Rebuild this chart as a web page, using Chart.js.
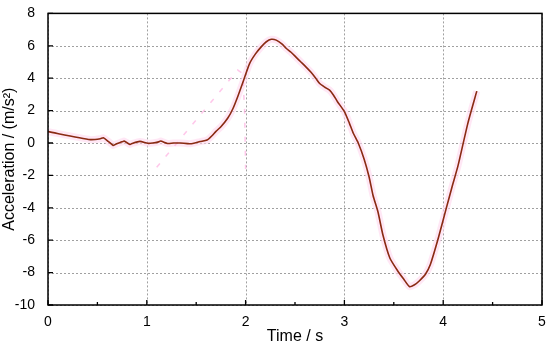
<!DOCTYPE html>
<html><head><meta charset="utf-8">
<script src="https://cdn.jsdelivr.net/npm/chart.js@4/dist/chart.umd.min.js"></script>
<style>html,body{margin:0;padding:0;background:#fff}#wrap{width:550px;height:346px}</style>
</head><body><div id="wrap"><canvas id="c" width="550" height="346"></canvas></div>
<script>
const timeS = [0,0.43,0.53,0.56,0.61,0.66,0.68,0.75,0.77,0.83,0.85,0.93,1.01,1.06,1.12,1.14,1.21,1.27,1.34,1.44,1.54,1.61,1.66,1.70,1.75,1.82,1.87,1.92,1.98,2.04,2.10,2.16,2.21,2.26,2.31,2.37,2.41,2.46,2.51,2.56,2.61,2.66,2.71,2.75,2.80,2.85,2.89,2.93,3.0,3.05,3.09,3.14,3.20,3.25,3.29,3.34,3.39,3.46,3.54,3.60,3.66,3.71,3.76,3.82,3.87,3.95,4.03,4.09,4.15,4.25,4.34];
const accel = [0.70,0.21,0.26,0.32,0.10,-0.15,-0.09,0.07,0.12,-0.09,-0.03,0.10,-0.02,0.0,0.07,0.12,-0.03,0.0,0.0,-0.05,0.09,0.18,0.45,0.72,1.0,1.54,2.1,2.86,3.87,4.9,5.5,5.95,6.25,6.40,6.35,6.1,5.85,5.6,5.3,5.0,4.7,4.38,4.0,3.67,3.45,3.26,2.95,2.55,1.94,1.23,0.6,0.0,-1.0,-2.1,-3.24,-4.26,-5.68,-7.1,-7.9,-8.4,-8.87,-8.75,-8.5,-8.1,-7.5,-5.88,-4.05,-2.7,-1.4,1.23,3.2];
const ghostT = [1.10,1.92,1.97,1.99,2.0];
const ghostA = [-1.5,4.5,4.3,2.0,-1.6];
const xTicks = [0,1,2,3,4,5];
const yTicks = [-10,-8,-6,-4,-2,0,2,4,6,8];

const mainPts = timeS.map((t,i)=>({x:t,y:accel[i]}));
const ghostPts = ghostT.map((t,i)=>({x:t,y:ghostA[i]}));

const gridPlugin = {
  id:'gridPlugin',
  beforeDatasetsDraw(chart){
    const {ctx, chartArea:a, scales:{x,y}} = chart;
    ctx.save();
    ctx.strokeStyle='#a0a0a0';
    ctx.lineWidth=1;
    ctx.setLineDash([2,2]);
    ctx.beginPath();
    xTicks.forEach(v=>{
      const px=Math.round(x.getPixelForValue(v))+0.5;
      ctx.moveTo(px,a.top); ctx.lineTo(px,a.bottom);
    });
    yTicks.forEach(v=>{
      const py=Math.round(y.getPixelForValue(v))+0.5;
      ctx.moveTo(a.left,py); ctx.lineTo(a.right,py);
    });
    ctx.stroke();
    ctx.restore();
  },
  afterDraw(chart){
    const {ctx, chartArea:a, scales:{x,y}} = chart;
    ctx.save();
    ctx.strokeStyle='#000';
    ctx.lineWidth=1.5;
    ctx.strokeRect(a.left,a.top,a.right-a.left,a.bottom-a.top);
    ctx.lineWidth=1.3;
    ctx.beginPath();
    for(let v=0; v<=5.0001; v+=0.5){
      const px=x.getPixelForValue(v);
      const len = (Math.abs(v-Math.round(v))<1e-6)?5:3;
      ctx.moveTo(px,a.bottom); ctx.lineTo(px,a.bottom-len);
    }
    yTicks.forEach(v=>{
      const py=y.getPixelForValue(v);
      ctx.moveTo(a.left,py); ctx.lineTo(a.left+5,py);
    });
    ctx.stroke();
    ctx.restore();
  }
};

new Chart(document.getElementById('c'),{
  type:'line',
  data:{datasets:[
    {data:mainPts,borderColor:'#8a2a12',borderWidth:1.6,pointRadius:0,tension:0.2,fill:false,order:0},
    {data:mainPts,borderColor:'rgba(255,215,238,0.6)',borderWidth:7,pointRadius:0,tension:0.2,fill:false,order:2},
    {data:ghostPts,borderColor:'rgba(255,175,225,0.7)',borderWidth:1.5,borderDash:[5,9],pointRadius:0,tension:0,fill:false,order:1}
  ]},
  options:{
    responsive:false,animation:false,
    layout:{padding:{left:0,right:8,top:9,bottom:0}},
    plugins:{legend:{display:false},tooltip:{enabled:false}},
    scales:{
      x:{type:'linear',min:0,max:5,
        afterBuildTicks(s){s.ticks=xTicks.map(v=>({value:v}));},
        afterFit(s){s.height=41;},
        border:{display:false},
        grid:{display:false},
        ticks:{color:'#000',font:{family:'Liberation Sans',size:14},padding:1,maxRotation:0},
        title:{display:true,text:'Time / s',color:'#000',font:{family:'Liberation Sans',size:16},padding:{top:0,bottom:0}}
      },
      y:{type:'linear',min:-10,max:8,
        afterBuildTicks(s){s.ticks=yTicks.map(v=>({value:v}));},
        afterFit(s){s.width=48;},
        border:{display:false},
        grid:{display:false},
        ticks:{color:'#000',font:{family:'Liberation Sans',size:14},padding:5},
        title:{display:true,text:'Acceleration / (m/s²)',color:'#000',font:{family:'Liberation Sans',size:16},padding:{top:0,bottom:2}}
      }
    }
  },
  plugins:[gridPlugin]
});
</script></body></html>
